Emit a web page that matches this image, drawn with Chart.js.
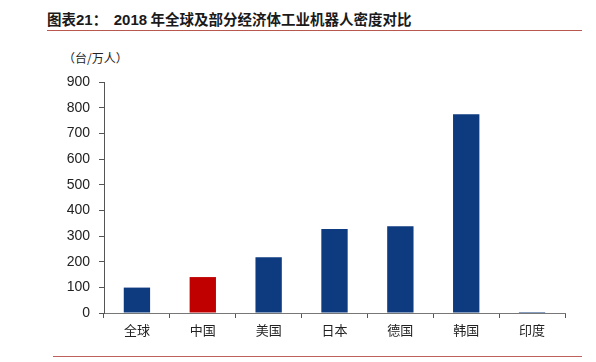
<!DOCTYPE html>
<html>
<head>
<meta charset="utf-8">
<script src="https://cdn.jsdelivr.net/npm/chart.js@4"></script>
<style>
  html,body{margin:0;padding:0;background:#fff;}
  #wrap{position:relative;width:596px;height:362px;overflow:hidden;}
  #title{position:absolute;left:47px;top:9px;font-family:"Noto Sans CJK SC","Liberation Sans",sans-serif;font-weight:bold;font-size:14.5px;color:#1a1a1a;white-space:pre;line-height:20px;}
  #title .num{font-family:"Liberation Sans",Arial,sans-serif;font-size:15px;}
  #topline{position:absolute;left:47px;top:30px;width:535px;height:1px;background:#b8584e;}
  #botline{position:absolute;left:53px;top:356px;width:529px;height:1px;background:#c0605a;}
  #unit{position:absolute;left:63px;top:49px;font-family:"Noto Sans CJK SC",sans-serif;font-size:12px;color:#222;line-height:18px;}
  canvas{position:absolute;left:0;top:0;}
</style>
</head>
<body>
<div id="wrap">
  <div id="title">图表<span class="num">21</span>：  <span class="num">2018</span> 年全球及部分经济体工业机器人密度对比</div>
  <div id="topline"></div>
  <div id="unit">（台/万人）</div>
  <canvas id="c" width="596" height="362"></canvas>
  <div id="botline"></div>
</div>
<script>
const categories = ["全球","中国","美国","日本","德国","韩国","印度"];
const density = [99, 140, 217, 327, 338, 774, 4];
const barColors = ["#0e3a80","#c00000","#0e3a80","#0e3a80","#0e3a80","#0e3a80","#0e3a80"];
const yTicks = [0,100,200,300,400,500,600,700,800,900];

new Chart(document.getElementById('c'), {
  type: 'bar',
  data: {
    labels: categories,
    datasets: [{
      data: density,
      backgroundColor: barColors,
      borderWidth: 0,
      barPercentage: 0.4,
      categoryPercentage: 1.0
    }]
  },
  options: {
    responsive: false,
    animation: false,
    layout: { padding: { left: 0, right: 31, top: 82, bottom: 0 } },
    plugins: { legend: { display: false }, tooltip: { enabled: false }, title: { display: false } },
    scales: {
      x: {
        offset: true,
        grid: { display: true, drawOnChartArea: false, offset: true, tickLength: 5, color: '#555' },
        border: { display: true, color: '#777', width: 1 },
        ticks: { color: '#222', font: { family: '"Noto Sans CJK SC", sans-serif', size: 13 }, padding: 4 },
        afterFit: (a) => { a.height = 49; }
      },
      y: {
        min: 0, max: 900,
        afterBuildTicks: (a) => { a.ticks = yTicks.map(v => ({ value: v })); },
        grid: { display: true, drawOnChartArea: false, tickLength: 5, color: '#555' },
        border: { display: true, color: '#555', width: 1 },
        ticks: { color: '#222', font: { family: '"Liberation Sans", Arial, sans-serif', size: 14 }, padding: 9 },
        afterFit: (a) => { a.width = 104; }
      }
    }
  }
});
</script>
</body>
</html>
